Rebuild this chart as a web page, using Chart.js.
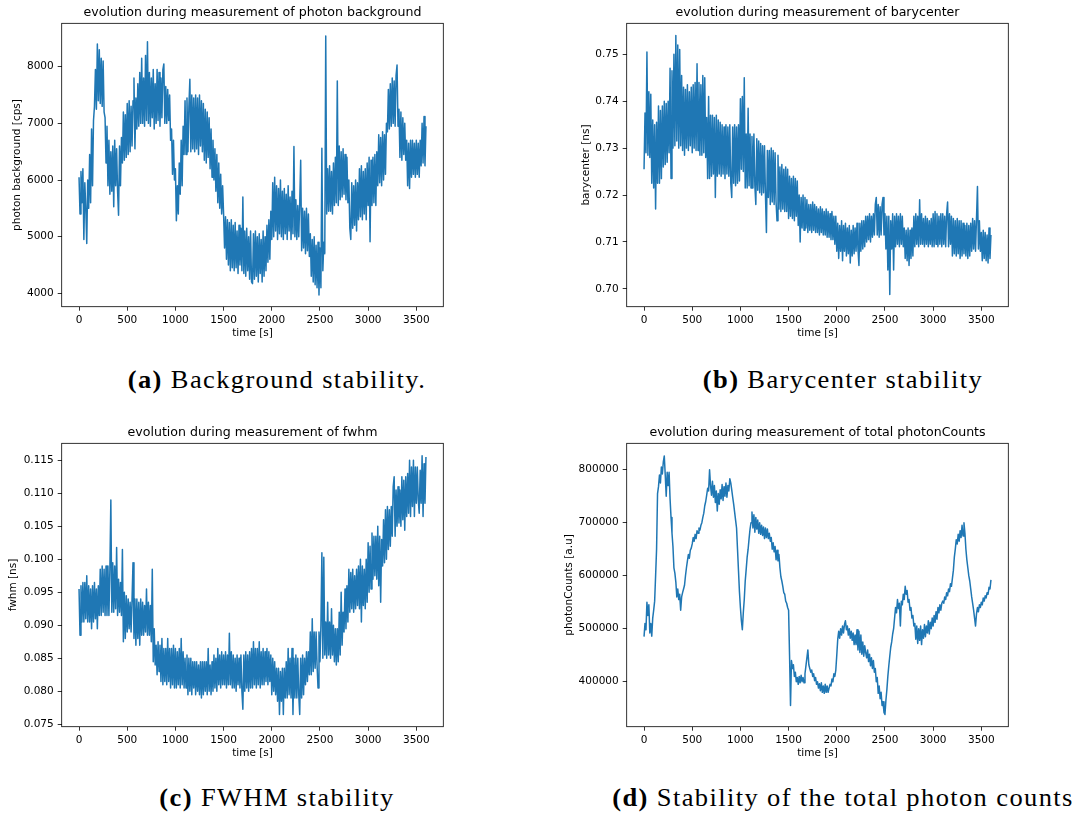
<!DOCTYPE html>
<html>
<head>
<meta charset="utf-8">
<script src="https://cdn.jsdelivr.net/npm/chart.js@4"></script>
<style>
body{margin:0;background:#fff;width:1078px;height:816px;position:relative;overflow:hidden}
canvas{position:absolute}
.cap{position:absolute;transform:translateX(-50%) scaleX(1.06);white-space:nowrap;font-family:"Liberation Serif",serif;font-size:25px;letter-spacing:1.3px;line-height:30px;color:#000}
</style>
</head>
<body>
<canvas id="bg" width="460" height="345" style="left:0;top:0"></canvas>
<canvas id="bary" width="518" height="345" style="left:560px;top:0"></canvas>
<canvas id="fwhm" width="460" height="345" style="left:0;top:420px"></canvas>
<canvas id="counts" width="518" height="345" style="left:560px;top:420px"></canvas>
<div class="cap" style="left:277px;top:365px"><b>(a)</b> Background stability.</div>
<div class="cap" style="left:843px;top:365px"><b>(b)</b> Barycenter stability</div>
<div class="cap" style="left:277px;top:783px"><b>(c)</b> FWHM stability</div>
<div class="cap" style="left:843px;top:783px"><b>(d)</b> Stability of the total photon counts</div>
<script>
// one sample every 10 s, 0..3600 s (one row below = 100 s)
const STEP=10;
const times=Array.from({length:361},(_,i)=>i*STEP);
const xTicks=[0,500,1000,1500,2000,2500,3000,3500];

// photon background [cps]
const bgVals=[
6050,5400,6150,5600,6200,4950,5950,5500,4880,6000,
5500,6450,5600,6900,5900,7050,7300,7950,7250,8400,
7400,8300,7350,8150,7300,8100,7200,7100,6300,6950,
5900,6700,5750,6500,5800,6600,5530,6700,5900,6550,
5800,5380,6600,5900,6750,6300,7200,6350,7150,6400,
7350,6450,7400,6500,7300,6600,7400,7800,6550,7450,
6900,7700,6950,7900,7000,8150,7000,7800,6950,8200,
7050,8440,7000,7900,6950,7800,7100,7950,6900,7700,
7000,7950,7050,7900,6950,7800,7100,7950,8050,7000,
7650,7000,7600,7050,7500,6700,6900,6100,6700,6000,
6200,5280,5900,5400,6300,5750,6700,5900,6950,6450,
7400,6450,7450,6500,7300,7780,6500,7500,6550,7450,
6500,7500,6550,7450,6450,7500,6600,7400,6500,7350,
6350,7250,6300,7200,6400,7100,6200,6900,6050,6700,
6000,6550,5800,6450,5600,6300,5500,6100,5400,5900,
5400,4800,5350,4600,5300,4500,5250,4400,5300,4450,
5200,4400,5250,4450,5100,4350,5200,4500,5150,4400,
5700,4350,5100,4300,5150,4400,5000,4250,5100,4200,
4170,5050,4250,5100,4300,5000,4200,5050,4350,4950,
4200,5100,4300,5000,4400,5200,4550,5300,4600,5450,
4950,5950,5000,6050,5100,5900,4950,5850,5050,6000,
5000,5800,4950,5850,5050,5750,4950,5900,5100,5700,
4950,5800,5050,6590,5000,5650,4950,5550,5000,5600,
6350,4750,5500,4800,5450,4700,5500,4750,5400,4650,
5050,4300,4950,4200,5000,4150,4850,4100,4900,3970,
4800,4100,6560,4400,4900,4700,8540,5400,6200,5450,
6250,5450,6150,5400,6300,5550,6400,5600,7750,5550,
6600,5650,6500,5700,6550,5750,6450,5650,6400,5600,
6000,5150,4950,5950,5150,5900,5200,6000,5100,5950,
5300,6200,5350,6250,5300,6150,5400,6200,5300,6300,
5550,6400,4910,6350,5550,6400,5600,6450,5550,6500,
5900,6800,5950,6750,5900,6850,6000,6800,6100,7000,
6850,7600,6900,7700,6950,7800,7000,7750,6950,7850,
8030,6950,7250,6400,7200,6350,7100,6450,7000,6350,
6700,5900,6650,5850,6700,6050,6700,6100,6650,6050,
6700,6100,6650,6050,6700,6250,7000,6300,7120,6250,
6950];
const bgTicks=[4000,5000,6000,7000,8000];

// barycenter [ns]
const baryVals=[
0.7255,0.7375,0.729,0.7505,0.7285,0.742,0.728,0.7415,0.7225,0.736,
0.7215,0.735,0.717,0.7355,0.7225,0.739,0.7225,0.738,0.7235,0.739,
0.726,0.740,0.7265,0.7395,0.727,0.740,0.729,0.747,0.7235,0.7465,
0.730,0.750,0.7305,0.754,0.7315,0.752,0.730,0.751,0.7305,0.7455,
0.7295,0.743,0.7285,0.7425,0.730,0.7435,0.7295,0.742,0.7305,0.743,
0.729,0.7435,0.730,0.744,0.7295,0.748,0.7295,0.744,0.7285,0.7435,
0.7285,0.7455,0.729,0.745,0.728,0.7365,0.7235,0.741,0.7235,0.737,
0.724,0.737,0.7245,0.7365,0.7195,0.737,0.724,0.736,0.7245,0.7355,
0.724,0.735,0.7245,0.7345,0.7235,0.735,0.7245,0.7345,0.724,0.735,
0.7225,0.7195,0.7345,0.7225,0.735,0.722,0.7345,0.7225,0.735,0.723,
0.7405,0.7255,0.741,0.725,0.745,0.7215,0.733,0.7215,0.7385,0.722,
0.733,0.7215,0.7325,0.7215,0.733,0.722,0.718,0.732,0.721,0.7315,
0.7205,0.731,0.720,0.7305,0.7205,0.7305,0.720,0.712,0.7295,0.7195,
0.7295,0.718,0.730,0.7185,0.7295,0.718,0.729,0.7185,0.7145,0.7285,
0.717,0.726,0.7165,0.7265,0.717,0.7255,0.7165,0.726,0.7165,0.7255,
0.715,0.724,0.7155,0.7235,0.715,0.724,0.7145,0.7235,0.7155,0.723,
0.7135,0.720,0.710,0.7195,0.713,0.720,0.7125,0.7195,0.713,0.719,
0.712,0.718,0.7125,0.718,0.712,0.7185,0.7125,0.718,0.712,0.7175,
0.712,0.717,0.7115,0.7175,0.712,0.717,0.7115,0.7165,0.7115,0.717,
0.711,0.7165,0.711,0.716,0.7105,0.7165,0.7105,0.7155,0.7095,0.7155,
0.708,0.714,0.7065,0.7135,0.708,0.7145,0.706,0.7135,0.708,0.714,
0.707,0.713,0.7075,0.7135,0.7055,0.7125,0.707,0.7135,0.7075,0.713,
0.708,0.714,0.7085,0.705,0.714,0.708,0.7145,0.7085,0.7145,0.709,
0.7155,0.710,0.7155,0.7105,0.716,0.710,0.7155,0.711,0.716,0.7115,
0.718,0.7195,0.7115,0.718,0.711,0.7175,0.7115,0.718,0.7195,0.7115,
0.716,0.7085,0.7155,0.704,0.7155,0.6988,0.7145,0.7085,0.716,0.704,
0.7155,0.709,0.716,0.7095,0.7155,0.709,0.716,0.7095,0.7155,0.709,
0.713,0.7065,0.7125,0.706,0.713,0.705,0.7125,0.7065,0.713,0.707,
0.7155,0.709,0.716,0.7095,0.7155,0.709,0.719,0.7095,0.716,0.7095,
0.715,0.709,0.7155,0.7095,0.715,0.709,0.7145,0.7095,0.715,0.709,
0.716,0.709,0.7165,0.7095,0.716,0.709,0.7155,0.7095,0.716,0.709,
0.716,0.7095,0.7155,0.709,0.716,0.7185,0.709,0.716,0.7095,0.7155,
0.707,0.715,0.7075,0.7145,0.707,0.715,0.7075,0.7145,0.7065,0.7145,
0.707,0.714,0.7075,0.7135,0.707,0.714,0.7065,0.7135,0.707,0.714,
0.708,0.715,0.7085,0.7145,0.708,0.715,0.7218,0.7085,0.7145,0.708,
0.712,0.706,0.7125,0.7065,0.712,0.706,0.7115,0.7055,0.713,0.7065,
0.7115];
const baryTicks=[0.70,0.71,0.72,0.73,0.74,0.75];

// fwhm [ns]
const fwhmVals=[
0.0955,0.0885,0.096,0.0905,0.0965,0.0905,0.0965,0.091,0.0975,0.0905,
0.096,0.0905,0.0955,0.0895,0.096,0.0905,0.0965,0.091,0.0955,0.0895,
0.096,0.0915,0.0985,0.0915,0.099,0.092,0.0985,0.0915,0.099,0.0915,
0.099,0.0915,0.0985,0.109,0.092,0.0995,0.092,0.099,0.0925,0.1018,
0.0915,0.097,0.092,0.0965,0.0915,0.1015,0.0875,0.095,0.088,0.0945,
0.089,0.094,0.0895,0.0935,0.089,0.094,0.0995,0.088,0.094,0.087,
0.094,0.088,0.0935,0.087,0.094,0.0885,0.0935,0.0885,0.093,0.089,
0.0955,0.0885,0.0935,0.0885,0.093,0.0875,0.0985,0.0845,0.0895,0.084,
0.087,0.0825,0.0875,0.083,0.087,0.0815,0.088,0.081,0.0865,0.0815,
0.0865,0.081,0.088,0.0815,0.0865,0.0805,0.0865,0.081,0.087,0.0805,
0.0865,0.0805,0.086,0.081,0.0865,0.0805,0.088,0.081,0.086,0.0805,
0.085,0.0805,0.0855,0.0795,0.085,0.080,0.085,0.0795,0.0845,0.0805,
0.0845,0.0795,0.0845,0.080,0.084,0.0795,0.0845,0.079,0.0845,0.0795,
0.0845,0.080,0.0845,0.0795,0.0865,0.080,0.084,0.0795,0.0845,0.080,
0.0855,0.0805,0.085,0.080,0.0865,0.081,0.0855,0.0805,0.086,0.081,
0.0855,0.081,0.086,0.0805,0.0855,0.081,0.0888,0.081,0.086,0.0805,
0.0855,0.0805,0.085,0.080,0.0855,0.081,0.085,0.0805,0.0855,0.080,
0.0773,0.0855,0.080,0.086,0.0805,0.0855,0.080,0.086,0.0805,0.0865,
0.0805,0.0875,0.081,0.0865,0.0805,0.0865,0.081,0.0875,0.0805,0.086,
0.081,0.0865,0.081,0.086,0.0815,0.0865,0.081,0.086,0.0815,0.0855,
0.0795,0.085,0.080,0.0845,0.0795,0.0835,0.0785,0.0835,0.0765,0.083,
0.0785,0.0835,0.0765,0.0835,0.079,0.0845,0.079,0.0865,0.0795,0.085,
0.079,0.0865,0.0765,0.085,0.079,0.0855,0.079,0.085,0.0795,0.0765,
0.085,0.079,0.0855,0.0795,0.085,0.081,0.086,0.0815,0.086,0.0825,
0.089,0.0825,0.091,0.083,0.089,0.0835,0.089,0.084,0.0805,0.089,
0.0845,0.090,0.101,0.085,0.1003,0.0855,0.0905,0.085,0.0935,0.0855,
0.0905,0.085,0.0925,0.0855,0.090,0.0845,0.0895,0.084,0.0895,0.0845,
0.092,0.0855,0.095,0.087,0.092,0.089,0.0955,0.0895,0.096,0.0905,
0.0985,0.092,0.098,0.0925,0.0985,0.092,0.0975,0.0925,0.0985,0.093,
0.099,0.0925,0.100,0.0905,0.099,0.093,0.0985,0.0925,0.100,0.0935,
0.1025,0.095,0.102,0.0955,0.104,0.097,0.1035,0.0975,0.1035,0.097,
0.105,0.096,0.1035,0.0935,0.103,0.099,0.106,0.0995,0.1075,0.100,
0.108,0.1015,0.1075,0.102,0.108,0.1035,0.111,0.1125,0.1035,0.1105,
0.105,0.111,0.1055,0.1105,0.105,0.1125,0.106,0.112,0.1044,0.1125,
0.1065,0.113,0.107,0.115,0.1065,0.114,0.108,0.115,0.1065,0.114,
0.1085,0.114,0.109,0.107,0.1135,0.1085,0.1157,0.1065,0.1145,0.1085,
0.1155];
const fwhmTicks=[0.075,0.080,0.085,0.090,0.095,0.100,0.105,0.110,0.115];

// total photonCounts [a.u]
const countVals=[
485000,510000,498000,550000,525000,545000,492000,510000,486000,520000,
535000,552000,600000,650000,755000,768000,790000,775000,805000,792000,
815000,826000,790000,750000,795000,770000,795000,745000,710000,680000,
655000,615000,605000,588000,560000,575000,555000,565000,535000,560000,
568000,575000,582000,600000,615000,628000,640000,633000,648000,652000,
660000,672000,665000,678000,670000,685000,680000,690000,686000,695000,
700000,710000,718000,732000,740000,752000,765000,760000,800000,770000,
752000,778000,748000,770000,738000,760000,722000,755000,735000,762000,
745000,772000,742000,768000,750000,775000,748000,770000,760000,783000,
775000,762000,748000,735000,720000,705000,690000,650000,610000,570000,
540000,515000,498000,530000,555000,590000,612000,635000,650000,670000,
688000,700000,720000,690000,715000,682000,710000,688000,705000,680000,
700000,678000,695000,676000,692000,670000,690000,672000,688000,670000,
680000,665000,672000,650000,662000,645000,655000,630000,648000,628000,
640000,615000,598000,590000,580000,568000,565000,552000,548000,540000,
535000,450000,355000,440000,425000,432000,410000,418000,400000,408000,
395000,410000,398000,412000,400000,408000,398000,415000,430000,445000,
460000,432000,425000,418000,422000,410000,415000,402000,408000,395000,
400000,388000,396000,383000,398000,380000,392000,378000,395000,380000,
392000,380000,388000,395000,392000,405000,400000,415000,410000,422000,
450000,480000,495000,482000,500000,488000,505000,492000,508000,515000,
498000,505000,488000,500000,482000,495000,478000,492000,470000,488000,
470000,498000,460000,495000,455000,488000,452000,475000,448000,468000,
455000,445000,460000,438000,452000,430000,445000,425000,440000,418000,
425000,400000,408000,378000,392000,368000,380000,355000,362000,342000,
338000,365000,385000,410000,430000,448000,465000,475000,490000,500000,
520000,540000,530000,555000,538000,548000,505000,552000,545000,565000,
555000,580000,565000,572000,550000,555000,535000,540000,520000,525000,
505000,510000,480000,505000,472000,500000,478000,505000,470000,498000,
482000,508000,485000,505000,492000,515000,490000,512000,500000,520000,
505000,525000,512000,532000,518000,540000,530000,545000,535000,548000,
552000,548000,560000,555000,568000,562000,575000,570000,585000,580000,
595000,610000,635000,650000,668000,660000,678000,665000,685000,672000,
695000,675000,700000,680000,650000,630000,615000,600000,590000,575000,
560000,548000,535000,520000,505000,528000,540000,532000,545000,540000,
550000,545000,558000,552000,562000,558000,568000,565000,578000,575000,
592000];
const countTicks=[400000,500000,600000,700000,800000];

const FONT='DejaVu Sans';
const tickFont={family:FONT,size:10.5};
const frame={id:'frame',afterDatasetsDraw(c){const a=c.chartArea,x=c.ctx;x.save();x.strokeStyle='#000';x.lineWidth=0.8;x.strokeRect(a.left,a.top,a.right-a.left,a.bottom-a.top);x.restore();}};
const grid={drawOnChartArea:false,tickLength:4,tickWidth:0.8,tickColor:'#000'};

const mkChart=(id,vals,yTicks,dec,ymin,ymax,title,ylab,ytPad,yw,rp)=>{
  new Chart(document.getElementById(id),{
    type:'line',
    data:{datasets:[{data:times.map((t,i)=>({x:t,y:vals[i]})),borderColor:'#1f77b4',borderWidth:1.5,borderJoinStyle:'round',pointRadius:0,tension:0,fill:false}]},
    options:{responsive:false,animation:false,devicePixelRatio:1,events:[],
      layout:{padding:{left:0,right:rp,top:0,bottom:0}},
      plugins:{legend:{display:false},tooltip:{enabled:false},
        title:{display:true,text:title,fullSize:false,color:'#000',font:{family:FONT,size:12.6,weight:'normal'},padding:{top:5,bottom:3.2}}},
      scales:{
        x:{type:'linear',min:-180,max:3780,
          afterBuildTicks:s=>{s.ticks=xTicks.map(v=>({value:v}))},afterFit:s=>{s.height=38.3},
          grid,border:{display:false},
          ticks:{color:'#000',font:tickFont,padding:3.5,maxRotation:0,autoSkip:false,callback:v=>String(v)},
          title:{display:true,text:'time [s]',color:'#000',font:tickFont,padding:{top:0,bottom:5.4}}},
        y:{type:'linear',min:ymin,max:ymax,
          afterBuildTicks:s=>{s.ticks=yTicks.map(v=>({value:v}))},afterFit:s=>{s.width=yw},
          grid,border:{display:false},
          ticks:{color:'#000',font:tickFont,padding:4,autoSkip:false,callback:v=>v.toFixed(dec)},
          title:{display:true,text:ylab,color:'#000',font:tickFont,padding:{top:ytPad,bottom:0}}}
      }},
    plugins:[frame]});
};

mkChart('bg',bgVals,bgTicks,0,3764,8766,'evolution during measurement of photon background','photon background [cps]',11.4,61.7,16.7);
mkChart('bary',baryVals,baryTicks,2,0.6962,0.7566,'evolution during measurement of barycenter','barycenter [ns]',19.7,66.7,69.7);
mkChart('fwhm',fwhmVals,fwhmTicks,3,0.07464,0.11758,'evolution during measurement of fwhm','fwhm [ns]',7,61.7,16.7);
mkChart('counts',countVals,countTicks,0,315100,849800,'evolution during measurement of total photonCounts','photonCounts [a.u]',3,66.7,69.7);
</script>
</body>
</html>
